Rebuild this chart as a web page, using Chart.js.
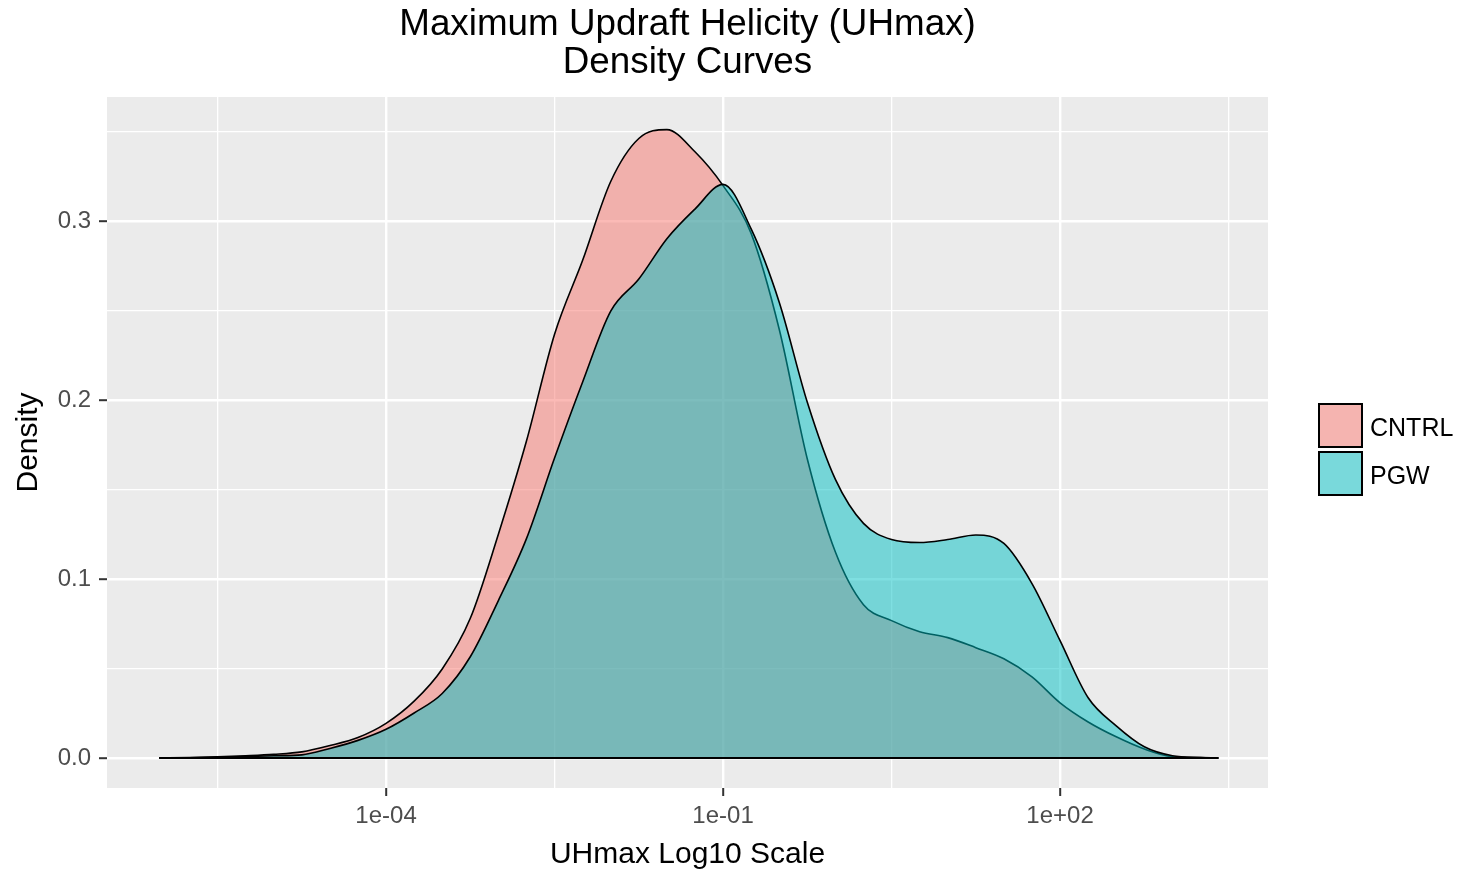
<!DOCTYPE html>
<html>
<head>
<meta charset="utf-8">
<script src="https://cdn.jsdelivr.net/npm/chart.js@4.4.1/dist/chart.umd.min.js"></script>
<style>
  html, body { margin: 0; padding: 0; background: #fff; }
</style>
</head>
<body>
<canvas id="densityChart" width="1464" height="872"></canvas>
<script>
// log10(UHmax) positions where the curves were read
var logUH = [-6.02, -5.75, -5.5, -5.25, -5.0, -4.75, -4.5, -4.25, -4.0, -3.75,
  -3.5, -3.25, -3.0, -2.75, -2.5, -2.25, -2.0, -1.75, -1.5, -1.25,
  -1.0, -0.75, -0.5, -0.25, 0.0, 0.25, 0.5, 0.75, 1.0, 1.25,
  1.5, 1.75, 2.0, 2.25, 2.5, 2.75, 3.0, 3.25, 3.41];

var cntrlDensity = [0, 0.0002, 0.0006, 0.0012, 0.002, 0.0034, 0.0069, 0.0114, 0.0193, 0.0317,
  0.0497, 0.078, 0.125, 0.177, 0.2367, 0.278, 0.322, 0.346, 0.351, 0.3386,
  0.3197, 0.293, 0.2395, 0.167, 0.115, 0.0856, 0.0767, 0.0705, 0.0672, 0.0616,
  0.0554, 0.0453, 0.0308, 0.0201, 0.0118, 0.005, 0.0007, 0.0002, 0];

var pgwDensity = [0, 0.0001, 0.0003, 0.0007, 0.0012, 0.0017, 0.0053, 0.0098, 0.016, 0.0251,
  0.036, 0.0565, 0.0879, 0.1225, 0.1675, 0.210, 0.2496, 0.2675, 0.290, 0.3066,
  0.3204, 0.2955, 0.2546, 0.1987, 0.1556, 0.131, 0.122, 0.1203, 0.122, 0.1245,
  0.1198, 0.0974, 0.0655, 0.0336, 0.0179, 0.0062, 0.0012, 0.0002, 0];

var seriesNames = ['CNTRL', 'PGW'];

var xMajor = [-4, -1, 2];
var xMajorLabels = ['1e-04', '1e-01', '1e+02'];
var xMinor = [-5.5, -2.5, 0.5, 3.5];

var yMajor = [0, 0.1, 0.2, 0.3];
var yMajorLabels = ['0.0', '0.1', '0.2', '0.3'];
var yMinor = [0.05, 0.15, 0.25, 0.35];

var FONT = '"Liberation Sans", Arial, sans-serif';
var redFill = 'rgba(248,118,109,0.5)';
var cyanFill = 'rgba(0,191,196,0.5)';

function toPoints(xs, ys) {
  return xs.map(function (x, i) { return { x: x, y: ys[i] }; });
}

var xLo = logUH[0], xHi = logUH[logUH.length - 1];

function isIn(list, v) {
  return list.some(function (t) { return Math.abs(t - v) < 1e-9; });
}

var panelPlugin = {
  id: 'panel',
  beforeDraw: function (chart) {
    var c = chart.ctx, a = chart.chartArea;
    c.save();
    c.fillStyle = '#FFFFFF';
    c.fillRect(0, 0, chart.width, chart.height);
    c.fillStyle = '#EBEBEB';
    c.fillRect(a.left, a.top, a.right - a.left, a.bottom - a.top);
    c.restore();
  },
  afterDraw: function (chart) {
    var c = chart.ctx, a = chart.chartArea;
    var cx = (a.left + a.right) / 2;
    c.save();
    // title, centred over the panel like ggplot
    c.fillStyle = '#000000';
    c.font = '36.8px ' + FONT;
    c.textAlign = 'center';
    c.textBaseline = 'alphabetic';
    c.fillText('Maximum Updraft Helicity (UHmax)', cx, 35);
    c.fillText('Density Curves', cx, 73);

    // legend
    var fills = [redFill, cyanFill];
    var bx = 1319, by = 404, size = 43, gap = 5;
    c.font = '25px ' + FONT;
    c.textAlign = 'left';
    c.textBaseline = 'middle';
    for (var i = 0; i < seriesNames.length; i++) {
      var y = by + i * (size + gap);
      c.fillStyle = '#F2F2F2';
      c.fillRect(bx, y, size, size);
      c.fillStyle = fills[i];
      c.fillRect(bx, y, size, size);
      c.strokeStyle = '#000000';
      c.lineWidth = 2;
      c.strokeRect(bx, y, size, size);
      c.fillStyle = '#000000';
      c.fillText(seriesNames[i], bx + size + 8, y + size / 2 + 4);
    }
    c.restore();
  }
};

var ctx = document.getElementById('densityChart');
var densityChart = new Chart(ctx, {
  type: 'line',
  data: {
    datasets: [{
      label: 'baseline',
      data: [{ x: xLo, y: 0 }, { x: xHi, y: 0 }],
      borderColor: '#000000',
      borderWidth: 2,
      pointRadius: 0,
      fill: false,
      order: 0
    }, {
      label: seriesNames[1],
      data: toPoints(logUH, pgwDensity),
      borderColor: '#000000',
      borderWidth: 1.6,
      backgroundColor: cyanFill,
      pointRadius: 0,
      fill: 'origin',
      cubicInterpolationMode: 'monotone',
      order: 1
    }, {
      label: seriesNames[0],
      data: toPoints(logUH, cntrlDensity),
      borderColor: '#000000',
      borderWidth: 1.6,
      backgroundColor: redFill,
      pointRadius: 0,
      fill: 'origin',
      cubicInterpolationMode: 'monotone',
      order: 2
    }]
  },
  options: {
    responsive: false,
    animation: false,
    layout: { padding: { top: 97, right: 196, bottom: 0, left: 0 } },
    scales: {
      x: {
        type: 'linear',
        min: -6.484,
        max: 3.851,
        afterBuildTicks: function (scale) {
          scale.ticks = xMinor.concat(xMajor).sort(function (a, b) { return a - b; })
            .map(function (v) { return { value: v }; });
        },
        afterFit: function (scale) { scale.height = 84; },
        border: { display: false },
        grid: {
          color: '#FFFFFF',
          lineWidth: function (c) { return c.tick && isIn(xMajor, c.tick.value) ? 2.4 : 1.3; },
          tickLength: 8,
          tickWidth: 2,
          tickColor: function (c) { return c.tick && isIn(xMajor, c.tick.value) ? '#333333' : 'rgba(0,0,0,0)'; }
        },
        ticks: {
          autoSkip: false,
          maxRotation: 0,
          padding: 6,
          color: '#4D4D4D',
          font: { family: FONT, size: 24 },
          callback: function (value) {
            for (var i = 0; i < xMajor.length; i++) {
              if (Math.abs(xMajor[i] - value) < 1e-9) return xMajorLabels[i];
            }
            return '';
          }
        },
        title: {
          display: true,
          text: 'UHmax Log10 Scale',
          color: '#000000',
          font: { family: FONT, size: 30, lineHeight: 1.0 },
          padding: { top: 0, bottom: 2 }
        }
      },
      y: {
        type: 'linear',
        min: -0.0168,
        max: 0.3692,
        afterBuildTicks: function (scale) {
          scale.ticks = yMinor.concat(yMajor).sort(function (a, b) { return a - b; })
            .map(function (v) { return { value: v }; });
        },
        afterFit: function (scale) { scale.width = 107; },
        border: { display: false },
        grid: {
          color: '#FFFFFF',
          lineWidth: function (c) { return c.tick && isIn(yMajor, c.tick.value) ? 2.4 : 1.3; },
          tickLength: 8,
          tickWidth: 2,
          tickColor: function (c) { return c.tick && isIn(yMajor, c.tick.value) ? '#333333' : 'rgba(0,0,0,0)'; }
        },
        ticks: {
          autoSkip: false,
          padding: 8,
          color: '#4D4D4D',
          font: { family: FONT, size: 24 },
          callback: function (value) {
            for (var i = 0; i < yMajor.length; i++) {
              if (Math.abs(yMajor[i] - value) < 1e-9) return yMajorLabels[i];
            }
            return '';
          }
        },
        title: {
          display: true,
          text: 'Density',
          color: '#000000',
          font: { family: FONT, size: 30, lineHeight: 1.2 },
          padding: { top: 11, bottom: 0 }
        }
      }
    },
    plugins: {
      legend: { display: false },
      title: { display: false },
      tooltip: { enabled: false }
    }
  },
  plugins: [panelPlugin]
});
</script>
</body>
</html>
